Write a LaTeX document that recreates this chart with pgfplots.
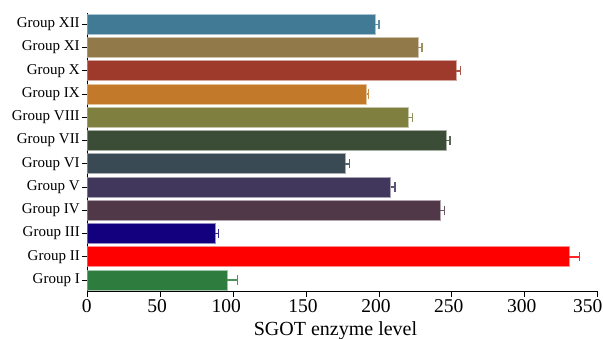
\documentclass[border=0pt]{standalone}
\usepackage{pgfplots}
\pgfplotsset{compat=1.18}
\usepackage{fontspec}
\setmainfont{Liberation Serif}
\definecolor{c1}{HTML}{2E7D3F}
\definecolor{c2}{HTML}{FF0000}
\definecolor{c3}{HTML}{13007E}
\definecolor{c4}{HTML}{503848}
\definecolor{c5}{HTML}{41365C}
\definecolor{c6}{HTML}{3A4A55}
\definecolor{c7}{HTML}{3C4D37}
\definecolor{c8}{HTML}{7F7F40}
\definecolor{c9}{HTML}{C27A2A}
\definecolor{c10}{HTML}{9E3A2B}
\definecolor{c11}{HTML}{917949}
\definecolor{c12}{HTML}{417A95}
\pgfplotsset{
  gbar/.style={fill=#1, draw=#1!45!white, line width=0.7pt,
    error bars/.cd, x dir=plus, x explicit, error mark=|,
    error bar style={#1!85!white, line width=1.5pt},
    error mark options={#1!85!white, line width=1.5pt, mark size=4.6pt}}
}
\begin{document}
\begin{tikzpicture}
\begin{axis}[name=ax,
  scale only axis, width=510.4pt, height=279pt,
  xbar, bar width=20pt, bar shift=0pt,
  xmin=0, xmax=350, ymin=-0.5, ymax=11.5,
  axis lines*=left,
  axis line style={line width=0.9pt},
  xtick={0,50,...,350},
  xticklabels={\kern5pt0,50,100\kern8pt,150,200,250,300,350\kern14pt},
  ytick={0,...,11},
  yticklabels={Group I,Group II,Group III,Group IV,Group V,Group VI,Group VII,Group VIII,Group IX,Group X,Group XI,Group XII},
  tick align=outside, tick pos=left,
  major tick length=5pt,
  tick style={line width=0.8pt, black},
  /pgf/number format/assume math mode=true,
  xticklabel style={font=\fontsize{19.5}{19.5}\selectfont, yshift=1pt, xshift=-3pt},
  yticklabel style={font=\fontsize{15}{15}\selectfont, xshift=1pt},
  xlabel={SGOT enzyme level},
  xlabel style={at={(axis description cs:0.5,0)}, anchor=base, yshift=-44.3pt, xshift=-7pt,
    font=\fontsize{20}{20}\selectfont},
]
\addplot[gbar=c1] coordinates {(96,0) +- (7.1,0)};
\addplot[gbar=c2] coordinates {(330.6,1) +- (6.9,0)};
\addplot[gbar=c3] coordinates {(87.6,2) +- (2.3,0)};
\addplot[gbar=c4] coordinates {(242,3) +- (3,0)};
\addplot[gbar=c5] coordinates {(208,4) +- (3,0)};
\addplot[gbar=c6] coordinates {(176.7,5) +- (3,0)};
\addplot[gbar=c7] coordinates {(246,6) +- (2.7,0)};
\addplot[gbar=c8] coordinates {(220,7) +- (3,0)};
\addplot[gbar=c9] coordinates {(191.5,8) +- (1.2,0)};
\addplot[gbar=c10] coordinates {(253,9) +- (3,0)};
\addplot[gbar=c11] coordinates {(227,10) +- (2.6,0)};
\addplot[gbar=c12] coordinates {(197.3,11) +- (2.8,0)};
\end{axis}
\pgfresetboundingbox
\path ([xshift=-87.3pt,yshift=-47.3pt]ax.south west) rectangle ([xshift=5.3pt,yshift=12.7pt]ax.north east);
\end{tikzpicture}
\end{document}
